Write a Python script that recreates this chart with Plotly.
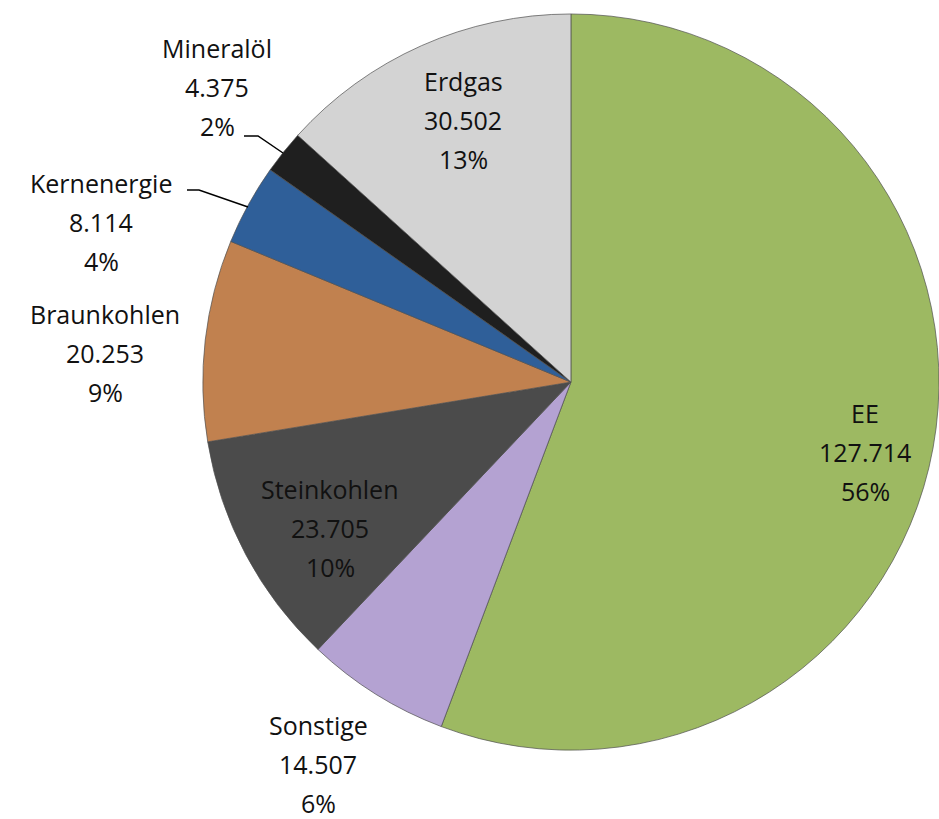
import plotly.graph_objects as go

W, H = 939, 819

categories = ["EE", "Sonstige", "Steinkohlen", "Braunkohlen", "Kernenergie", "Mineralöl", "Erdgas"]
values = [127.714, 14.507, 23.705, 20.253, 8.114, 4.375, 30.502]
value_labels = ["127.714", "14.507", "23.705", "20.253", "8.114", "4.375", "30.502"]
colors = ["#9db962", "#b4a2d2", "#4b4b4b", "#c1814f", "#2f5f99", "#1f1f1f", "#d3d3d3"]

# label anchor positions (pixels, middle line) - styling/layout only
label_pos = {
    "EE": (865, 452),
    "Sonstige": (318, 764),
    "Steinkohlen": (330, 528),
    "Braunkohlen": (105, 353),
    "Kernenergie": (101, 222),
    "Mineralöl": (217, 87),
    "Erdgas": (463, 120),
}

total = sum(values)
fig = go.Figure(go.Pie(
    labels=categories,
    values=values,
    sort=False,
    direction="clockwise",
    rotation=0,
    marker=dict(colors=colors, line=dict(color="rgba(80,80,80,0.7)", width=1)),
    textinfo="none",
    hoverinfo="label+value+percent",
    domain=dict(x=[0.216, 1.0], y=[0.083, 0.984]),
    showlegend=False,
))

annotations = []
for cat, v, vl in zip(categories, values, value_labels):
    pct = f"{round(v / total * 100):d}%"
    px, py = label_pos[cat]
    for text, shift in [(cat, 39), (vl, 0), (pct, -39)]:
        annotations.append(dict(
            x=px / W, y=1 - py / H, xref="paper", yref="paper",
            text=text, showarrow=False, yshift=shift,
            xanchor="center", yanchor="middle",
            font=dict(family="Open Sans, sans-serif", size=25, color="#111111"),
        ))

def seg(points):
    path = "M " + " L ".join(f"{x / W:.5f},{1 - y / H:.5f}" for x, y in points)
    return dict(type="path", path=path, xref="paper", yref="paper",
                line=dict(color="black", width=1.5))

shapes = [
    seg([(244, 136), (258, 136), (283, 153)]),
    seg([(187, 190), (199, 190), (248, 207)]),
]

fig.update_layout(
    width=W, height=H,
    margin=dict(l=0, r=0, t=0, b=0),
    paper_bgcolor="white",
    plot_bgcolor="white",
    annotations=annotations,
    shapes=shapes,
)

fig.write_html(
    "out.html",
    config={"displayModeBar": False},
    post_script="document.body.style.margin='0';document.body.style.overflow='hidden';",
)
